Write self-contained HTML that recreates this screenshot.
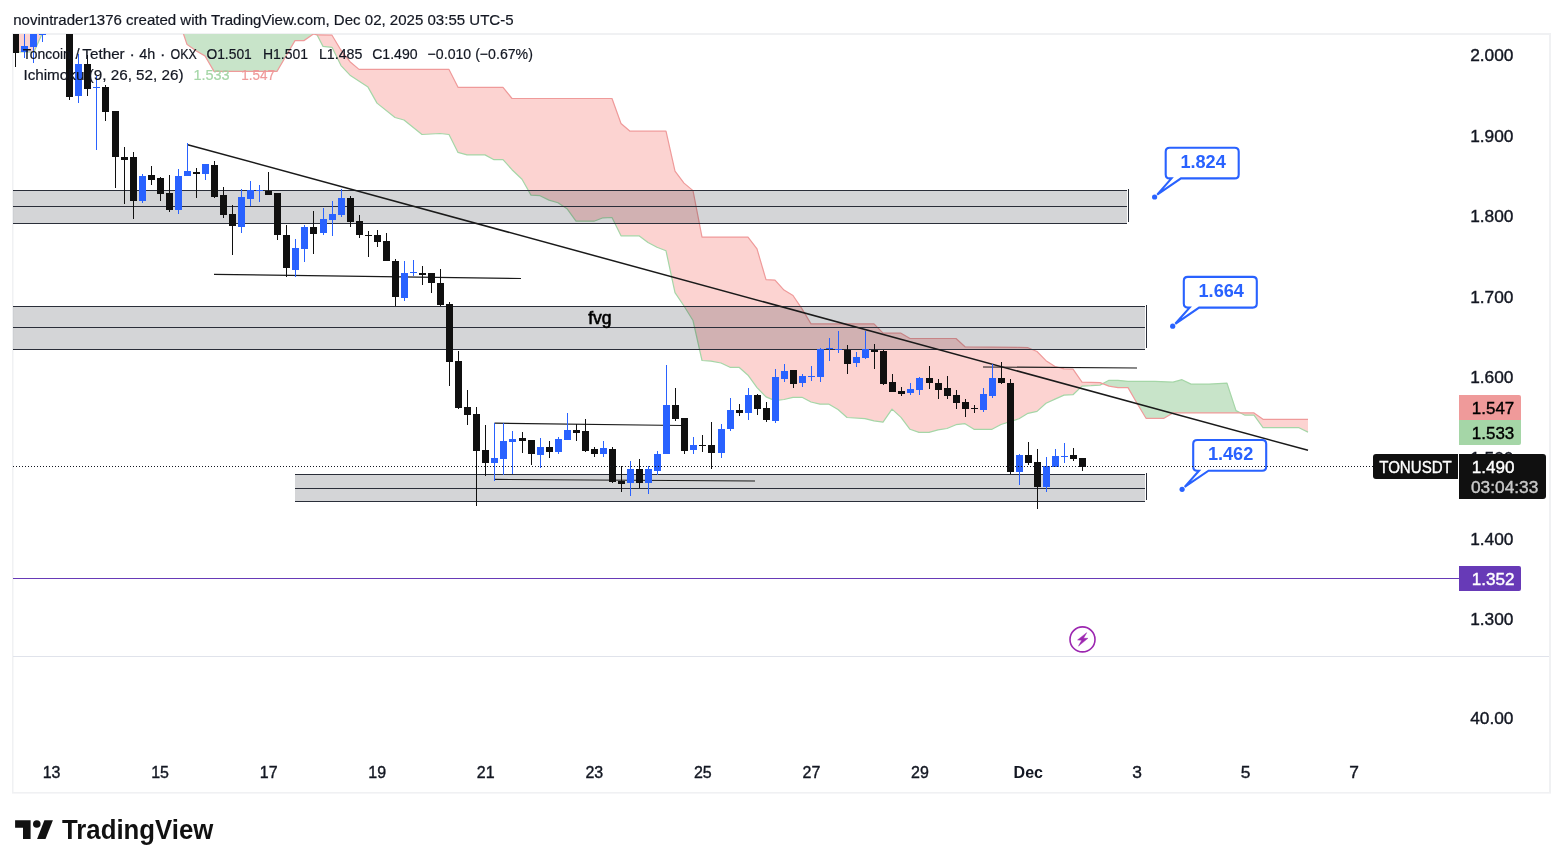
<!DOCTYPE html>
<html lang="en"><head><meta charset="utf-8"><title>TONUSDT chart</title>
<style>html,body{margin:0;padding:0;background:#fff}body{width:1563px;height:868px;overflow:hidden}svg text{white-space:pre}</style>
</head><body>
<svg width="1563" height="868" viewBox="0 0 1563 868" style="display:block">
<rect width="1563" height="868" fill="#fff"/>
<defs><clipPath id="pc"><rect x="13" y="34" width="1446" height="622"/></clipPath></defs>
<rect x="12" y="33" width="1539" height="2" fill="#f0f1f3"/>
<rect x="12" y="33" width="1.5" height="760" fill="#f0f1f3"/>
<rect x="1549" y="33" width="2" height="760" fill="#f0f1f3"/>
<rect x="12" y="792" width="1539" height="1.6" fill="#f0f1f3"/>
<rect x="13" y="656" width="1536" height="1" fill="#e0e3eb"/>
<g clip-path="url(#pc)">
<polygon points="317.0,34.8 323.0,46.4 332.0,47.3 341.0,65.6 350.0,75.2 359.0,81.2 368.0,87.1 377.0,103.1 395.0,117.5 404.0,120.0 422.0,134.5 440.0,133.5 449.0,134.5 458.0,152.4 467.0,154.9 485.0,154.9 494.0,159.7 503.0,159.7 512.0,169.7 522.0,179.3 531.0,195.1 540.0,195.7 549.0,200.1 558.0,202.8 567.0,208.7 576.0,221.2 594.0,221.2 603.0,217.8 612.0,217.5 621.0,235.8 630.0,235.8 639.0,235.8 648.0,242.5 657.0,247.3 666.0,250.8 675.0,292.6 684.0,306.0 693.0,320.5 702.0,360.5 711.0,361.1 721.0,363.0 730.0,367.3 739.0,367.3 748.0,375.2 757.0,387.6 766.0,396.9 775.0,400.6 784.0,399.5 793.0,397.3 802.0,397.3 811.0,402.0 820.0,404.2 829.0,404.2 838.0,409.5 847.0,417.5 865.0,418.6 874.0,420.9 883.0,422.2 892.0,409.1 901.0,417.4 910.0,429.3 919.0,432.4 929.0,432.4 938.0,429.9 947.0,428.5 956.0,424.7 965.0,423.7 974.0,429.3 992.0,429.3 1001.0,424.5 1019.0,418.7 1028.0,413.3 1037.0,411.4 1046.0,403.3 1055.0,399.1 1064.0,395.1 1073.0,394.7 1082.0,386.1 1091.0,385.7 1100.0,385.1 1102.7,383.7 1102.7,383.7 1100.0,382.6 1091.0,382.4 1082.0,382.2 1073.0,369.2 1064.0,368.8 1055.0,366.5 1046.0,360.7 1037.0,351.5 1028.0,347.7 1019.0,347.3 1001.0,347.1 992.0,347.1 974.0,346.9 965.0,346.8 956.0,338.5 947.0,338.5 938.0,338.5 929.0,338.5 919.0,338.5 910.0,338.5 901.0,333.2 892.0,333.2 883.0,333.2 874.0,323.9 865.0,323.9 847.0,323.9 838.0,323.9 829.0,323.9 820.0,323.9 811.0,323.9 802.0,308.9 793.0,295.5 784.0,290.1 775.0,280.1 766.0,279.7 757.0,248.9 748.0,237.1 739.0,237.1 730.0,237.1 721.0,237.1 711.0,237.1 702.0,237.1 693.0,190.6 684.0,183.1 675.0,171.2 666.0,131.2 657.0,131.2 648.0,131.2 639.0,131.2 630.0,131.2 621.0,123.5 612.0,98.5 603.0,98.5 594.0,98.5 576.0,98.5 567.0,98.5 558.0,98.5 549.0,98.5 540.0,98.5 531.0,98.5 522.0,98.5 512.0,98.5 503.0,87.3 494.0,87.3 485.0,87.3 467.0,87.3 458.0,87.3 449.0,69.4 440.0,69.4 422.0,69.4 404.0,69.4 395.0,69.4 377.0,69.4 368.0,69.4 359.0,69.4 350.0,61.7 341.0,50.2 332.0,35.2 323.0,35.0 317.0,34.8" fill="#fcd3d1"/>
<polygon points="1102.7,383.7 1109.0,380.3 1118.0,380.3 1128.0,381.3 1137.0,381.3 1146.0,381.3 1155.0,381.3 1164.0,381.8 1173.0,382.2 1182.0,379.7 1191.0,384.1 1209.0,384.1 1227.0,383.2 1236.0,410.6 1240.5,412.9 1240.5,412.9 1236.0,412.9 1227.0,412.9 1209.0,412.9 1191.0,412.9 1182.0,412.9 1173.0,412.9 1164.0,418.3 1155.0,418.3 1146.0,418.3 1137.0,403.3 1128.0,387.6 1118.0,387.6 1109.0,386.1 1102.7,383.7" fill="#c8e4c9"/>
<polygon points="1240.5,412.9 1245.0,415.2 1254.0,415.2 1263.0,427.7 1299.0,427.7 1308.0,432.1 1308.0,419.3 1299.0,419.3 1263.0,419.3 1254.0,412.9 1245.0,412.9 1240.5,412.9" fill="#fcd3d1"/>
<polygon points="183.5,34.0 187.0,44.4 196.0,50.8 205.0,56.0 214.0,71.4 277.0,71.4 286.0,56.0 295.0,40.6 304.0,40.6 313.4,34.0" fill="#c8e4c9"/>
<polyline points="183.5,34.0 187.0,44.4 196.0,50.8 205.0,56.0 214.0,71.4 277.0,71.4 286.0,56.0 295.0,40.6 304.0,40.6 313.4,34.0 317.0,34.8" fill="none" stroke="#ef9a9a" stroke-width="1.2"/>
<polygon points="13,34 42,34 34,52 13,52" fill="#fcd3d1"/>
<polyline points="42,34 34,52 13,52" fill="none" stroke="#a5d6a7" stroke-width="1.2"/>
<polyline points="317.0,34.8 323.0,46.4 332.0,47.3 341.0,65.6 350.0,75.2 368.0,87.1 377.0,103.1 395.0,117.5 404.0,120.0 422.0,134.5 440.0,133.5 449.0,134.5 458.0,152.4 467.0,154.9 485.0,154.9 494.0,159.7 503.0,159.7 512.0,169.7 522.0,179.3 531.0,195.1 540.0,195.7 549.0,200.1 558.0,202.8 567.0,208.7 576.0,221.2 594.0,221.2 603.0,217.8 612.0,217.5 621.0,235.8 639.0,235.8 648.0,242.5 657.0,247.3 666.0,250.8 675.0,292.6 684.0,306.0 693.0,320.5 702.0,360.5 711.0,361.1 721.0,363.0 730.0,367.3 739.0,367.3 748.0,375.2 757.0,387.6 766.0,396.9 775.0,400.6 784.0,399.5 793.0,397.3 802.0,397.3 811.0,402.0 820.0,404.2 829.0,404.2 838.0,409.5 847.0,417.5 865.0,418.6 874.0,420.9 883.0,422.2 892.0,409.1 901.0,417.4 910.0,429.3 919.0,432.4 929.0,432.4 938.0,429.9 947.0,428.5 956.0,424.7 965.0,423.7 974.0,429.3 992.0,429.3 1001.0,424.5 1019.0,418.7 1028.0,413.3 1037.0,411.4 1046.0,403.3 1055.0,399.1 1064.0,395.1 1073.0,394.7 1082.0,386.1 1091.0,385.7 1100.0,385.1 1109.0,380.3 1118.0,380.3 1128.0,381.3 1155.0,381.3 1173.0,382.2 1182.0,379.7 1191.0,384.1 1209.0,384.1 1227.0,383.2 1236.0,410.6 1245.0,415.2 1254.0,415.2 1263.0,427.7 1299.0,427.7 1308.0,432.1" fill="none" stroke="#a5d6a7" stroke-width="1.2" stroke-linejoin="round"/>
<polyline points="317.0,34.8 332.0,35.2 341.0,50.2 350.0,61.7 359.0,69.4 449.0,69.4 458.0,87.3 503.0,87.3 512.0,98.5 612.0,98.5 621.0,123.5 630.0,131.2 666.0,131.2 675.0,171.2 684.0,183.1 693.0,190.6 702.0,237.1 748.0,237.1 757.0,248.9 766.0,279.7 775.0,280.1 784.0,290.1 793.0,295.5 802.0,308.9 811.0,323.9 874.0,323.9 883.0,333.2 901.0,333.2 910.0,338.5 956.0,338.5 965.0,346.8 1019.0,347.3 1028.0,347.7 1037.0,351.5 1046.0,360.7 1055.0,366.5 1064.0,368.8 1073.0,369.2 1082.0,382.2 1100.0,382.6 1109.0,386.1 1118.0,387.6 1128.0,387.6 1137.0,403.3 1146.0,418.3 1164.0,418.3 1173.0,412.9 1254.0,412.9 1263.0,419.3 1308.0,419.3" fill="none" stroke="#ef9a9a" stroke-width="1.2" stroke-linejoin="round"/>
<rect x="13" y="190" width="1114" height="34" fill="rgba(42,46,57,0.2)"/>
<rect x="13" y="190" width="1114" height="1" fill="#2a2e39"/>
<rect x="13" y="206" width="1114" height="1" fill="#2a2e39"/>
<rect x="13" y="223" width="1114" height="1" fill="#2a2e39"/>
<rect x="1128" y="189" width="1" height="33" fill="#2a2e39"/>
<rect x="13" y="306" width="1132" height="44" fill="rgba(42,46,57,0.2)"/>
<rect x="13" y="306" width="1132" height="1" fill="#2a2e39"/>
<rect x="13" y="327" width="1132" height="1" fill="#2a2e39"/>
<rect x="13" y="349" width="1132" height="1" fill="#2a2e39"/>
<rect x="1146" y="305" width="1" height="43" fill="#2a2e39"/>
<rect x="295" y="474" width="850" height="28" fill="rgba(42,46,57,0.2)"/>
<rect x="295" y="474" width="850" height="1" fill="#2a2e39"/>
<rect x="295" y="488" width="850" height="1" fill="#2a2e39"/>
<rect x="295" y="501" width="850" height="1" fill="#2a2e39"/>
<rect x="1146" y="473" width="1" height="27" fill="#2a2e39"/>
<line x1="187.7" y1="144.7" x2="1308" y2="450.3" stroke="#1a1a1a" stroke-width="1.5"/>
<line x1="214" y1="274.3" x2="521" y2="278.5" stroke="#1a1a1a" stroke-width="1.2"/>
<line x1="494.5" y1="423.2" x2="681.5" y2="425.5" stroke="#1a1a1a" stroke-width="1.2"/>
<line x1="494.5" y1="479.4" x2="755" y2="481" stroke="#1a1a1a" stroke-width="1.2"/>
<line x1="983" y1="367" x2="1137" y2="368" stroke="#1a1a1a" stroke-width="1.2"/>
<g shape-rendering="crispEdges"><rect x="15" y="34" width="1" height="33" fill="#101010"/>
<rect x="12" y="34" width="7" height="19" fill="#101010"/>
<rect x="24" y="34" width="1" height="24" fill="#2962ff"/>
<rect x="21" y="46" width="7" height="6" fill="#2962ff"/>
<rect x="33" y="34" width="1" height="29" fill="#2962ff"/>
<rect x="30" y="34" width="7" height="13" fill="#2962ff"/>
<rect x="42" y="34" width="1" height="8" fill="#2962ff"/>
<rect x="39" y="34" width="7" height="1" fill="#2962ff"/>
<rect x="69" y="34" width="1" height="66" fill="#101010"/>
<rect x="66" y="34" width="7" height="63" fill="#101010"/>
<rect x="78" y="54" width="1" height="49" fill="#2962ff"/>
<rect x="75" y="64" width="7" height="32" fill="#2962ff"/>
<rect x="87" y="55" width="1" height="41" fill="#101010"/>
<rect x="84" y="64" width="7" height="25" fill="#101010"/>
<rect x="96" y="76" width="1" height="74" fill="#2962ff"/>
<rect x="93" y="87" width="7" height="1" fill="#2962ff"/>
<rect x="105" y="85" width="1" height="36" fill="#101010"/>
<rect x="102" y="87" width="7" height="25" fill="#101010"/>
<rect x="115" y="111" width="1" height="77" fill="#101010"/>
<rect x="112" y="111" width="7" height="46" fill="#101010"/>
<rect x="124" y="147" width="1" height="57" fill="#101010"/>
<rect x="121" y="157" width="7" height="3" fill="#101010"/>
<rect x="133" y="152" width="1" height="67" fill="#101010"/>
<rect x="130" y="157" width="7" height="44" fill="#101010"/>
<rect x="142" y="174" width="1" height="29" fill="#2962ff"/>
<rect x="139" y="176" width="7" height="25" fill="#2962ff"/>
<rect x="151" y="166" width="1" height="19" fill="#101010"/>
<rect x="148" y="175" width="7" height="5" fill="#101010"/>
<rect x="160" y="177" width="1" height="24" fill="#101010"/>
<rect x="157" y="178" width="7" height="16" fill="#101010"/>
<rect x="169" y="175" width="1" height="37" fill="#101010"/>
<rect x="166" y="193" width="7" height="17" fill="#101010"/>
<rect x="178" y="169" width="1" height="45" fill="#2962ff"/>
<rect x="175" y="176" width="7" height="34" fill="#2962ff"/>
<rect x="187" y="143" width="1" height="33" fill="#2962ff"/>
<rect x="184" y="171" width="7" height="5" fill="#2962ff"/>
<rect x="196" y="168" width="1" height="30" fill="#101010"/>
<rect x="193" y="172" width="7" height="2" fill="#101010"/>
<rect x="205" y="164" width="1" height="16" fill="#2962ff"/>
<rect x="202" y="164" width="7" height="10" fill="#2962ff"/>
<rect x="214" y="161" width="1" height="37" fill="#101010"/>
<rect x="211" y="165" width="7" height="32" fill="#101010"/>
<rect x="223" y="187" width="1" height="31" fill="#101010"/>
<rect x="220" y="195" width="7" height="20" fill="#101010"/>
<rect x="232" y="205" width="1" height="50" fill="#101010"/>
<rect x="229" y="214" width="7" height="12" fill="#101010"/>
<rect x="241" y="189" width="1" height="44" fill="#2962ff"/>
<rect x="238" y="197" width="7" height="30" fill="#2962ff"/>
<rect x="250" y="181" width="1" height="25" fill="#2962ff"/>
<rect x="247" y="190" width="7" height="9" fill="#2962ff"/>
<rect x="259" y="185" width="1" height="17" fill="#2962ff"/>
<rect x="256" y="190" width="7" height="1" fill="#2962ff"/>
<rect x="268" y="172" width="1" height="23" fill="#101010"/>
<rect x="265" y="191" width="7" height="4" fill="#101010"/>
<rect x="277" y="193" width="1" height="47" fill="#101010"/>
<rect x="274" y="193" width="7" height="42" fill="#101010"/>
<rect x="286" y="225" width="1" height="52" fill="#101010"/>
<rect x="283" y="235" width="7" height="33" fill="#101010"/>
<rect x="295" y="239" width="1" height="38" fill="#2962ff"/>
<rect x="292" y="248" width="7" height="22" fill="#2962ff"/>
<rect x="304" y="225" width="1" height="37" fill="#2962ff"/>
<rect x="301" y="227" width="7" height="22" fill="#2962ff"/>
<rect x="313" y="211" width="1" height="43" fill="#101010"/>
<rect x="310" y="227" width="7" height="7" fill="#101010"/>
<rect x="323" y="208" width="1" height="27" fill="#2962ff"/>
<rect x="320" y="219" width="7" height="14" fill="#2962ff"/>
<rect x="332" y="201" width="1" height="35" fill="#2962ff"/>
<rect x="329" y="214" width="7" height="6" fill="#2962ff"/>
<rect x="341" y="189" width="1" height="28" fill="#2962ff"/>
<rect x="338" y="198" width="7" height="17" fill="#2962ff"/>
<rect x="350" y="196" width="1" height="31" fill="#101010"/>
<rect x="347" y="198" width="7" height="24" fill="#101010"/>
<rect x="359" y="215" width="1" height="23" fill="#101010"/>
<rect x="356" y="221" width="7" height="14" fill="#101010"/>
<rect x="368" y="231" width="1" height="26" fill="#101010"/>
<rect x="365" y="235" width="7" height="1" fill="#101010"/>
<rect x="377" y="230" width="1" height="17" fill="#101010"/>
<rect x="374" y="235" width="7" height="7" fill="#101010"/>
<rect x="386" y="233" width="1" height="28" fill="#101010"/>
<rect x="383" y="241" width="7" height="20" fill="#101010"/>
<rect x="395" y="259" width="1" height="47" fill="#101010"/>
<rect x="392" y="261" width="7" height="36" fill="#101010"/>
<rect x="404" y="261" width="1" height="40" fill="#2962ff"/>
<rect x="401" y="273" width="7" height="25" fill="#2962ff"/>
<rect x="413" y="260" width="1" height="16" fill="#2962ff"/>
<rect x="410" y="272" width="7" height="1" fill="#2962ff"/>
<rect x="422" y="266" width="1" height="19" fill="#101010"/>
<rect x="419" y="273" width="7" height="2" fill="#101010"/>
<rect x="431" y="273" width="1" height="20" fill="#101010"/>
<rect x="428" y="273" width="7" height="10" fill="#101010"/>
<rect x="440" y="269" width="1" height="37" fill="#101010"/>
<rect x="437" y="283" width="7" height="22" fill="#101010"/>
<rect x="449" y="302" width="1" height="84" fill="#101010"/>
<rect x="446" y="304" width="7" height="58" fill="#101010"/>
<rect x="458" y="351" width="1" height="58" fill="#101010"/>
<rect x="455" y="361" width="7" height="47" fill="#101010"/>
<rect x="467" y="390" width="1" height="35" fill="#101010"/>
<rect x="464" y="407" width="7" height="8" fill="#101010"/>
<rect x="476" y="407" width="1" height="99" fill="#101010"/>
<rect x="473" y="414" width="7" height="37" fill="#101010"/>
<rect x="485" y="425" width="1" height="51" fill="#101010"/>
<rect x="482" y="450" width="7" height="13" fill="#101010"/>
<rect x="494" y="423" width="1" height="58" fill="#2962ff"/>
<rect x="491" y="458" width="7" height="5" fill="#2962ff"/>
<rect x="503" y="423" width="1" height="52" fill="#2962ff"/>
<rect x="500" y="441" width="7" height="18" fill="#2962ff"/>
<rect x="512" y="431" width="1" height="43" fill="#2962ff"/>
<rect x="509" y="439" width="7" height="3" fill="#2962ff"/>
<rect x="522" y="432" width="1" height="21" fill="#101010"/>
<rect x="519" y="438" width="7" height="3" fill="#101010"/>
<rect x="531" y="440" width="1" height="25" fill="#101010"/>
<rect x="528" y="440" width="7" height="14" fill="#101010"/>
<rect x="540" y="438" width="1" height="30" fill="#2962ff"/>
<rect x="537" y="447" width="7" height="8" fill="#2962ff"/>
<rect x="549" y="441" width="1" height="17" fill="#101010"/>
<rect x="546" y="447" width="7" height="5" fill="#101010"/>
<rect x="558" y="437" width="1" height="17" fill="#2962ff"/>
<rect x="555" y="439" width="7" height="13" fill="#2962ff"/>
<rect x="567" y="413" width="1" height="27" fill="#2962ff"/>
<rect x="564" y="430" width="7" height="10" fill="#2962ff"/>
<rect x="576" y="424" width="1" height="17" fill="#101010"/>
<rect x="573" y="430" width="7" height="3" fill="#101010"/>
<rect x="585" y="419" width="1" height="33" fill="#101010"/>
<rect x="582" y="431" width="7" height="20" fill="#101010"/>
<rect x="594" y="447" width="1" height="10" fill="#101010"/>
<rect x="591" y="449" width="7" height="5" fill="#101010"/>
<rect x="603" y="441" width="1" height="16" fill="#2962ff"/>
<rect x="600" y="448" width="7" height="6" fill="#2962ff"/>
<rect x="612" y="447" width="1" height="36" fill="#101010"/>
<rect x="609" y="449" width="7" height="33" fill="#101010"/>
<rect x="621" y="466" width="1" height="26" fill="#101010"/>
<rect x="618" y="481" width="7" height="3" fill="#101010"/>
<rect x="630" y="461" width="1" height="35" fill="#2962ff"/>
<rect x="627" y="469" width="7" height="14" fill="#2962ff"/>
<rect x="639" y="459" width="1" height="29" fill="#101010"/>
<rect x="636" y="469" width="7" height="14" fill="#101010"/>
<rect x="648" y="466" width="1" height="28" fill="#2962ff"/>
<rect x="645" y="469" width="7" height="14" fill="#2962ff"/>
<rect x="657" y="451" width="1" height="24" fill="#2962ff"/>
<rect x="654" y="454" width="7" height="17" fill="#2962ff"/>
<rect x="666" y="365" width="1" height="89" fill="#2962ff"/>
<rect x="663" y="405" width="7" height="49" fill="#2962ff"/>
<rect x="675" y="388" width="1" height="33" fill="#101010"/>
<rect x="672" y="405" width="7" height="14" fill="#101010"/>
<rect x="684" y="418" width="1" height="36" fill="#101010"/>
<rect x="681" y="418" width="7" height="33" fill="#101010"/>
<rect x="693" y="437" width="1" height="17" fill="#2962ff"/>
<rect x="690" y="445" width="7" height="5" fill="#2962ff"/>
<rect x="702" y="435" width="1" height="17" fill="#101010"/>
<rect x="699" y="445" width="7" height="1" fill="#101010"/>
<rect x="711" y="422" width="1" height="47" fill="#101010"/>
<rect x="708" y="445" width="7" height="8" fill="#101010"/>
<rect x="721" y="424" width="1" height="34" fill="#2962ff"/>
<rect x="718" y="429" width="7" height="24" fill="#2962ff"/>
<rect x="730" y="398" width="1" height="33" fill="#2962ff"/>
<rect x="727" y="410" width="7" height="19" fill="#2962ff"/>
<rect x="739" y="404" width="1" height="12" fill="#101010"/>
<rect x="736" y="410" width="7" height="3" fill="#101010"/>
<rect x="748" y="388" width="1" height="32" fill="#2962ff"/>
<rect x="745" y="395" width="7" height="18" fill="#2962ff"/>
<rect x="757" y="394" width="1" height="21" fill="#101010"/>
<rect x="754" y="395" width="7" height="14" fill="#101010"/>
<rect x="766" y="402" width="1" height="20" fill="#101010"/>
<rect x="763" y="408" width="7" height="12" fill="#101010"/>
<rect x="775" y="369" width="1" height="54" fill="#2962ff"/>
<rect x="772" y="377" width="7" height="44" fill="#2962ff"/>
<rect x="784" y="364" width="1" height="18" fill="#2962ff"/>
<rect x="781" y="371" width="7" height="8" fill="#2962ff"/>
<rect x="793" y="370" width="1" height="18" fill="#101010"/>
<rect x="790" y="370" width="7" height="14" fill="#101010"/>
<rect x="802" y="374" width="1" height="13" fill="#2962ff"/>
<rect x="799" y="376" width="7" height="7" fill="#2962ff"/>
<rect x="811" y="366" width="1" height="15" fill="#2962ff"/>
<rect x="808" y="376" width="7" height="1" fill="#2962ff"/>
<rect x="820" y="348" width="1" height="34" fill="#2962ff"/>
<rect x="817" y="349" width="7" height="28" fill="#2962ff"/>
<rect x="829" y="338" width="1" height="23" fill="#2962ff"/>
<rect x="826" y="348" width="7" height="1" fill="#2962ff"/>
<rect x="838" y="331" width="1" height="22" fill="#2962ff"/>
<rect x="835" y="349" width="7" height="1" fill="#2962ff"/>
<rect x="847" y="345" width="1" height="29" fill="#101010"/>
<rect x="844" y="350" width="7" height="14" fill="#101010"/>
<rect x="856" y="352" width="1" height="15" fill="#2962ff"/>
<rect x="853" y="357" width="7" height="6" fill="#2962ff"/>
<rect x="865" y="331" width="1" height="28" fill="#2962ff"/>
<rect x="862" y="349" width="7" height="9" fill="#2962ff"/>
<rect x="874" y="344" width="1" height="25" fill="#101010"/>
<rect x="871" y="350" width="7" height="2" fill="#101010"/>
<rect x="883" y="350" width="1" height="35" fill="#101010"/>
<rect x="880" y="351" width="7" height="33" fill="#101010"/>
<rect x="892" y="374" width="1" height="18" fill="#101010"/>
<rect x="889" y="382" width="7" height="10" fill="#101010"/>
<rect x="901" y="387" width="1" height="9" fill="#101010"/>
<rect x="898" y="391" width="7" height="3" fill="#101010"/>
<rect x="910" y="383" width="1" height="12" fill="#2962ff"/>
<rect x="907" y="389" width="7" height="4" fill="#2962ff"/>
<rect x="919" y="377" width="1" height="18" fill="#2962ff"/>
<rect x="916" y="378" width="7" height="12" fill="#2962ff"/>
<rect x="929" y="366" width="1" height="23" fill="#101010"/>
<rect x="926" y="378" width="7" height="5" fill="#101010"/>
<rect x="938" y="379" width="1" height="20" fill="#101010"/>
<rect x="935" y="383" width="7" height="7" fill="#101010"/>
<rect x="947" y="376" width="1" height="23" fill="#101010"/>
<rect x="944" y="388" width="7" height="8" fill="#101010"/>
<rect x="956" y="390" width="1" height="19" fill="#101010"/>
<rect x="953" y="395" width="7" height="8" fill="#101010"/>
<rect x="965" y="399" width="1" height="18" fill="#101010"/>
<rect x="962" y="402" width="7" height="7" fill="#101010"/>
<rect x="974" y="405" width="1" height="8" fill="#101010"/>
<rect x="971" y="408" width="7" height="1" fill="#101010"/>
<rect x="983" y="388" width="1" height="24" fill="#2962ff"/>
<rect x="980" y="394" width="7" height="16" fill="#2962ff"/>
<rect x="992" y="364" width="1" height="34" fill="#2962ff"/>
<rect x="989" y="378" width="7" height="18" fill="#2962ff"/>
<rect x="1001" y="362" width="1" height="22" fill="#101010"/>
<rect x="998" y="378" width="7" height="5" fill="#101010"/>
<rect x="1010" y="379" width="1" height="95" fill="#101010"/>
<rect x="1007" y="383" width="7" height="89" fill="#101010"/>
<rect x="1019" y="454" width="1" height="31" fill="#2962ff"/>
<rect x="1016" y="455" width="7" height="17" fill="#2962ff"/>
<rect x="1028" y="442" width="1" height="23" fill="#101010"/>
<rect x="1025" y="455" width="7" height="8" fill="#101010"/>
<rect x="1037" y="449" width="1" height="60" fill="#101010"/>
<rect x="1034" y="462" width="7" height="25" fill="#101010"/>
<rect x="1046" y="457" width="1" height="35" fill="#2962ff"/>
<rect x="1043" y="466" width="7" height="21" fill="#2962ff"/>
<rect x="1055" y="449" width="1" height="18" fill="#2962ff"/>
<rect x="1052" y="456" width="7" height="11" fill="#2962ff"/>
<rect x="1064" y="443" width="1" height="20" fill="#2962ff"/>
<rect x="1061" y="456" width="7" height="1" fill="#2962ff"/>
<rect x="1073" y="448" width="1" height="13" fill="#101010"/>
<rect x="1070" y="455" width="7" height="4" fill="#101010"/>
<rect x="1082" y="458" width="1" height="13" fill="#101010"/>
<rect x="1079" y="458" width="7" height="9" fill="#101010"/></g>
<rect x="13" y="578" width="1446" height="1" fill="#673ab7"/>
</g>
<text x="599.9" y="323.7" font-family="'Liberation Sans', Arial, sans-serif" font-size="17.5" fill="#000" stroke="#000" stroke-width="0.6" text-anchor="middle">fvg</text>
<path d="M1169.7,147.7 L1234.7,147.7 Q1238.7,147.7 1238.7,151.7 L1238.7,174.4 Q1238.7,178.4 1234.7,178.4 L1181.0,178.4 L1157.2,194.6 L1171.5,178.4 L1169.7,178.4 Q1165.7,178.4 1165.7,174.4 L1165.7,151.7 Q1165.7,147.7 1169.7,147.7 Z" fill="#fff" stroke="#2962ff" stroke-width="2.1" stroke-linejoin="miter"/>
<circle cx="1154.6" cy="197.0" r="2.6" fill="#2962ff"/>
<text x="1203.1" y="167.9" font-family="'Liberation Sans', Arial, sans-serif" font-size="17.6" font-weight="bold" fill="#2962ff" text-anchor="middle" textLength="45.4" lengthAdjust="spacingAndGlyphs">1.824</text>
<path d="M1187.8,276.9 L1252.8,276.9 Q1256.8,276.9 1256.8,280.9 L1256.8,303.6 Q1256.8,307.6 1252.8,307.6 L1199.1,307.6 L1175.3,323.8 L1189.6,307.6 L1187.8,307.6 Q1183.8,307.6 1183.8,303.6 L1183.8,280.9 Q1183.8,276.9 1187.8,276.9 Z" fill="#fff" stroke="#2962ff" stroke-width="2.1" stroke-linejoin="miter"/>
<circle cx="1172.7" cy="326.2" r="2.6" fill="#2962ff"/>
<text x="1221.2" y="297.1" font-family="'Liberation Sans', Arial, sans-serif" font-size="17.6" font-weight="bold" fill="#2962ff" text-anchor="middle" textLength="45.4" lengthAdjust="spacingAndGlyphs">1.664</text>
<path d="M1197.2,440.0 L1262.2,440.0 Q1266.2,440.0 1266.2,444.0 L1266.2,466.7 Q1266.2,470.7 1262.2,470.7 L1208.5,470.7 L1184.7,486.9 L1199.0,470.7 L1197.2,470.7 Q1193.2,470.7 1193.2,466.7 L1193.2,444.0 Q1193.2,440.0 1197.2,440.0 Z" fill="#fff" stroke="#2962ff" stroke-width="2.1" stroke-linejoin="miter"/>
<circle cx="1182.1" cy="489.3" r="2.6" fill="#2962ff"/>
<text x="1230.6" y="460.2" font-family="'Liberation Sans', Arial, sans-serif" font-size="17.6" font-weight="bold" fill="#2962ff" text-anchor="middle" textLength="45.4" lengthAdjust="spacingAndGlyphs">1.462</text>
<line x1="13" y1="466.5" x2="1373" y2="466.5" stroke="#131722" stroke-width="1" stroke-dasharray="1 2" stroke-dashoffset="0" shape-rendering="crispEdges"/>
<circle cx="1082.5" cy="639.4" r="12.5" fill="none" stroke="#9c27b0" stroke-width="1.6"/>
<polygon points="1086.7,632.7 1077.6,639.9 1081.7,640.2 1078.5,646.1 1087.9,638.3 1083.5,638.3" fill="#9c27b0" stroke="#9c27b0" stroke-width="0.5" stroke-linejoin="round"/>
<text x="13.2" y="25.0" font-family="'Liberation Sans', Arial, sans-serif" font-size="15.3" font-weight="normal" fill="#131722" text-anchor="start" textLength="500.4" lengthAdjust="spacingAndGlyphs" stroke="#131722" stroke-width="0.2">novintrader1376 created with TradingView.com, Dec 02, 2025 03:55 UTC-5</text>
<text x="22.8" y="58.9" font-family="'Liberation Sans', Arial, sans-serif" font-size="14.7" font-weight="normal" fill="#131722" text-anchor="start" textLength="47.9" lengthAdjust="spacingAndGlyphs" stroke="#131722" stroke-width="0.2">Toncoin</text>
<text x="75.6" y="58.9" font-family="'Liberation Sans', Arial, sans-serif" font-size="14.7" font-weight="normal" fill="#131722" text-anchor="start" stroke="#131722" stroke-width="0.2">/</text>
<text x="82.3" y="58.9" font-family="'Liberation Sans', Arial, sans-serif" font-size="14.7" font-weight="normal" fill="#131722" text-anchor="start" textLength="42.4" lengthAdjust="spacingAndGlyphs" stroke="#131722" stroke-width="0.2">Tether</text>
<text x="132.1" y="58.9" font-family="'Liberation Sans', Arial, sans-serif" font-size="14.7" font-weight="normal" fill="#131722" text-anchor="middle" stroke="#131722" stroke-width="0.4">·</text>
<text x="139.2" y="58.9" font-family="'Liberation Sans', Arial, sans-serif" font-size="14.7" font-weight="normal" fill="#131722" text-anchor="start" textLength="16" lengthAdjust="spacingAndGlyphs" stroke="#131722" stroke-width="0.2">4h</text>
<text x="162.8" y="58.9" font-family="'Liberation Sans', Arial, sans-serif" font-size="14.7" font-weight="normal" fill="#131722" text-anchor="middle" stroke="#131722" stroke-width="0.4">·</text>
<text x="170.6" y="58.9" font-family="'Liberation Sans', Arial, sans-serif" font-size="14.7" font-weight="normal" fill="#131722" text-anchor="start" textLength="26.3" lengthAdjust="spacingAndGlyphs" stroke="#131722" stroke-width="0.2">OKX</text>
<text x="206.4" y="58.9" font-family="'Liberation Sans', Arial, sans-serif" font-size="14.7" font-weight="normal" fill="#131722" text-anchor="start" textLength="45.4" lengthAdjust="spacingAndGlyphs" stroke="#131722" stroke-width="0.2">O1.501</text>
<text x="262.9" y="58.9" font-family="'Liberation Sans', Arial, sans-serif" font-size="14.7" font-weight="normal" fill="#131722" text-anchor="start" textLength="45.1" lengthAdjust="spacingAndGlyphs" stroke="#131722" stroke-width="0.2">H1.501</text>
<text x="318.9" y="58.9" font-family="'Liberation Sans', Arial, sans-serif" font-size="14.7" font-weight="normal" fill="#131722" text-anchor="start" textLength="43.5" lengthAdjust="spacingAndGlyphs" stroke="#131722" stroke-width="0.2">L1.485</text>
<text x="372.2" y="58.9" font-family="'Liberation Sans', Arial, sans-serif" font-size="14.7" font-weight="normal" fill="#131722" text-anchor="start" textLength="45.4" lengthAdjust="spacingAndGlyphs" stroke="#131722" stroke-width="0.2">C1.490</text>
<text x="427.6" y="58.9" font-family="'Liberation Sans', Arial, sans-serif" font-size="14.7" font-weight="normal" fill="#131722" text-anchor="start" textLength="105.3" lengthAdjust="spacingAndGlyphs" stroke="#131722" stroke-width="0.2">−0.010 (−0.67%)</text>
<text x="23.4" y="79.8" font-family="'Liberation Sans', Arial, sans-serif" font-size="14.7" font-weight="normal" fill="#131722" text-anchor="start" textLength="160.2" lengthAdjust="spacingAndGlyphs" stroke="#131722" stroke-width="0.2">Ichimoku (9, 26, 52, 26)</text>
<text x="193.4" y="79.8" font-family="'Liberation Sans', Arial, sans-serif" font-size="14.7" font-weight="normal" fill="#a5d6a7" text-anchor="start" textLength="36.3" lengthAdjust="spacingAndGlyphs" stroke="#a5d6a7" stroke-width="0.2">1.533</text>
<text x="241.3" y="79.8" font-family="'Liberation Sans', Arial, sans-serif" font-size="14.7" font-weight="normal" fill="#ef9a9a" text-anchor="start" textLength="33.7" lengthAdjust="spacingAndGlyphs" stroke="#ef9a9a" stroke-width="0.2">1.547</text>
<text x="1470.2" y="60.6" font-family="'Liberation Sans', Arial, sans-serif" font-size="17.4" font-weight="normal" fill="#131722" text-anchor="start" textLength="43.3" lengthAdjust="spacingAndGlyphs" stroke="#131722" stroke-width="0.4">2.000</text>
<text x="1470.2" y="141.6" font-family="'Liberation Sans', Arial, sans-serif" font-size="17.4" font-weight="normal" fill="#131722" text-anchor="start" textLength="43.3" lengthAdjust="spacingAndGlyphs" stroke="#131722" stroke-width="0.4">1.900</text>
<text x="1470.2" y="221.7" font-family="'Liberation Sans', Arial, sans-serif" font-size="17.4" font-weight="normal" fill="#131722" text-anchor="start" textLength="43.3" lengthAdjust="spacingAndGlyphs" stroke="#131722" stroke-width="0.4">1.800</text>
<text x="1470.2" y="302.6" font-family="'Liberation Sans', Arial, sans-serif" font-size="17.4" font-weight="normal" fill="#131722" text-anchor="start" textLength="43.3" lengthAdjust="spacingAndGlyphs" stroke="#131722" stroke-width="0.4">1.700</text>
<text x="1470.2" y="383.4" font-family="'Liberation Sans', Arial, sans-serif" font-size="17.4" font-weight="normal" fill="#131722" text-anchor="start" textLength="43.3" lengthAdjust="spacingAndGlyphs" stroke="#131722" stroke-width="0.4">1.600</text>
<text x="1470.2" y="464.0" font-family="'Liberation Sans', Arial, sans-serif" font-size="17.4" font-weight="normal" fill="#131722" text-anchor="start" textLength="43.3" lengthAdjust="spacingAndGlyphs" stroke="#131722" stroke-width="0.4">1.500</text>
<text x="1470.2" y="544.6" font-family="'Liberation Sans', Arial, sans-serif" font-size="17.4" font-weight="normal" fill="#131722" text-anchor="start" textLength="43.3" lengthAdjust="spacingAndGlyphs" stroke="#131722" stroke-width="0.4">1.400</text>
<text x="1470.2" y="625.4" font-family="'Liberation Sans', Arial, sans-serif" font-size="17.4" font-weight="normal" fill="#131722" text-anchor="start" textLength="43.3" lengthAdjust="spacingAndGlyphs" stroke="#131722" stroke-width="0.4">1.300</text>
<text x="1470.2" y="723.8" font-family="'Liberation Sans', Arial, sans-serif" font-size="17.4" font-weight="normal" fill="#131722" text-anchor="start" textLength="43.3" lengthAdjust="spacingAndGlyphs" stroke="#131722" stroke-width="0.4">40.00</text>
<path d="M1459,395 H1519 Q1521,395 1521,397 V420 H1459 Z" fill="#ef9a9a"/>
<path d="M1459,420 H1521 V443 Q1521,445 1519,445 H1459 Z" fill="#a5d6a7"/>
<text x="1471.8" y="413.5" font-family="'Liberation Sans', Arial, sans-serif" font-size="17.4" font-weight="normal" fill="#000" text-anchor="start" textLength="42.5" lengthAdjust="spacingAndGlyphs" stroke="#000" stroke-width="0.4">1.547</text>
<text x="1471.8" y="438.9" font-family="'Liberation Sans', Arial, sans-serif" font-size="17.4" font-weight="normal" fill="#000" text-anchor="start" textLength="42.5" lengthAdjust="spacingAndGlyphs" stroke="#000" stroke-width="0.4">1.533</text>
<path d="M1376,454 H1458 V479 H1376 Q1373,479 1373,476 V457 Q1373,454 1376,454 Z" fill="#101010"/>
<path d="M1459,454 H1543 Q1546,454 1546,457 V496 Q1546,499 1543,499 H1459 Z" fill="#101010"/>
<text x="1379.2" y="472.8" font-family="'Liberation Sans', Arial, sans-serif" font-size="17.4" font-weight="normal" fill="#fff" text-anchor="start" textLength="72.6" lengthAdjust="spacingAndGlyphs" stroke="#fff" stroke-width="0.4">TONUSDT</text>
<text x="1471.8" y="472.6" font-family="'Liberation Sans', Arial, sans-serif" font-size="17.4" font-weight="normal" fill="#fff" text-anchor="start" textLength="42.8" lengthAdjust="spacingAndGlyphs" stroke="#fff" stroke-width="0.4">1.490</text>
<text x="1471" y="492.5" font-family="'Liberation Sans', Arial, sans-serif" font-size="17.4" font-weight="normal" fill="#c9c9c9" text-anchor="start" textLength="67.3" lengthAdjust="spacingAndGlyphs" stroke="#c9c9c9" stroke-width="0.4">03:04:33</text>
<path d="M1459,566 H1519 Q1521,566 1521,568 V589 Q1521,591 1519,591 H1459 Z" fill="#673ab7"/>
<text x="1471.8" y="584.5" font-family="'Liberation Sans', Arial, sans-serif" font-size="17.4" font-weight="normal" fill="#fff" text-anchor="start" textLength="42.8" lengthAdjust="spacingAndGlyphs" stroke="#fff" stroke-width="0.4">1.352</text>
<text x="51.6" y="778.2" font-family="'Liberation Sans', Arial, sans-serif" font-size="17.4" font-weight="normal" fill="#131722" text-anchor="middle" textLength="17.8" lengthAdjust="spacingAndGlyphs" stroke="#131722" stroke-width="0.4">13</text>
<text x="160.1" y="778.2" font-family="'Liberation Sans', Arial, sans-serif" font-size="17.4" font-weight="normal" fill="#131722" text-anchor="middle" textLength="17.8" lengthAdjust="spacingAndGlyphs" stroke="#131722" stroke-width="0.4">15</text>
<text x="268.7" y="778.2" font-family="'Liberation Sans', Arial, sans-serif" font-size="17.4" font-weight="normal" fill="#131722" text-anchor="middle" textLength="17.8" lengthAdjust="spacingAndGlyphs" stroke="#131722" stroke-width="0.4">17</text>
<text x="377.2" y="778.2" font-family="'Liberation Sans', Arial, sans-serif" font-size="17.4" font-weight="normal" fill="#131722" text-anchor="middle" textLength="17.8" lengthAdjust="spacingAndGlyphs" stroke="#131722" stroke-width="0.4">19</text>
<text x="485.7" y="778.2" font-family="'Liberation Sans', Arial, sans-serif" font-size="17.4" font-weight="normal" fill="#131722" text-anchor="middle" textLength="17.8" lengthAdjust="spacingAndGlyphs" stroke="#131722" stroke-width="0.4">21</text>
<text x="594.3" y="778.2" font-family="'Liberation Sans', Arial, sans-serif" font-size="17.4" font-weight="normal" fill="#131722" text-anchor="middle" textLength="17.8" lengthAdjust="spacingAndGlyphs" stroke="#131722" stroke-width="0.4">23</text>
<text x="702.8" y="778.2" font-family="'Liberation Sans', Arial, sans-serif" font-size="17.4" font-weight="normal" fill="#131722" text-anchor="middle" textLength="17.8" lengthAdjust="spacingAndGlyphs" stroke="#131722" stroke-width="0.4">25</text>
<text x="811.4" y="778.2" font-family="'Liberation Sans', Arial, sans-serif" font-size="17.4" font-weight="normal" fill="#131722" text-anchor="middle" textLength="17.8" lengthAdjust="spacingAndGlyphs" stroke="#131722" stroke-width="0.4">27</text>
<text x="919.9" y="778.2" font-family="'Liberation Sans', Arial, sans-serif" font-size="17.4" font-weight="normal" fill="#131722" text-anchor="middle" textLength="17.8" lengthAdjust="spacingAndGlyphs" stroke="#131722" stroke-width="0.4">29</text>
<text x="1137.0" y="778.2" font-family="'Liberation Sans', Arial, sans-serif" font-size="17.4" font-weight="normal" fill="#131722" text-anchor="middle" stroke="#131722" stroke-width="0.4">3</text>
<text x="1245.5" y="778.2" font-family="'Liberation Sans', Arial, sans-serif" font-size="17.4" font-weight="normal" fill="#131722" text-anchor="middle" stroke="#131722" stroke-width="0.4">5</text>
<text x="1354.0" y="778.2" font-family="'Liberation Sans', Arial, sans-serif" font-size="17.4" font-weight="normal" fill="#131722" text-anchor="middle" stroke="#131722" stroke-width="0.4">7</text>
<text x="1028.3" y="778.3" font-family="'Liberation Sans', Arial, sans-serif" font-size="17.4" font-weight="bold" fill="#131722" text-anchor="middle" textLength="29.4" lengthAdjust="spacingAndGlyphs">Dec</text>
<path d="M15.1,820.2 H30.6 V839.1 H23 V827.8 H15.1 Z" fill="#111"/>
<circle cx="36.8" cy="824" r="3.8" fill="#111"/>
<polygon points="44.4,820.2 52.9,820.2 45.5,839.1 37.1,839.1" fill="#111"/>
<text x="62" y="839.1" font-family="'Liberation Sans', Arial, sans-serif" font-size="27" font-weight="bold" fill="#111" text-anchor="start" textLength="151.3" lengthAdjust="spacingAndGlyphs">TradingView</text>
</svg>
</body></html>
